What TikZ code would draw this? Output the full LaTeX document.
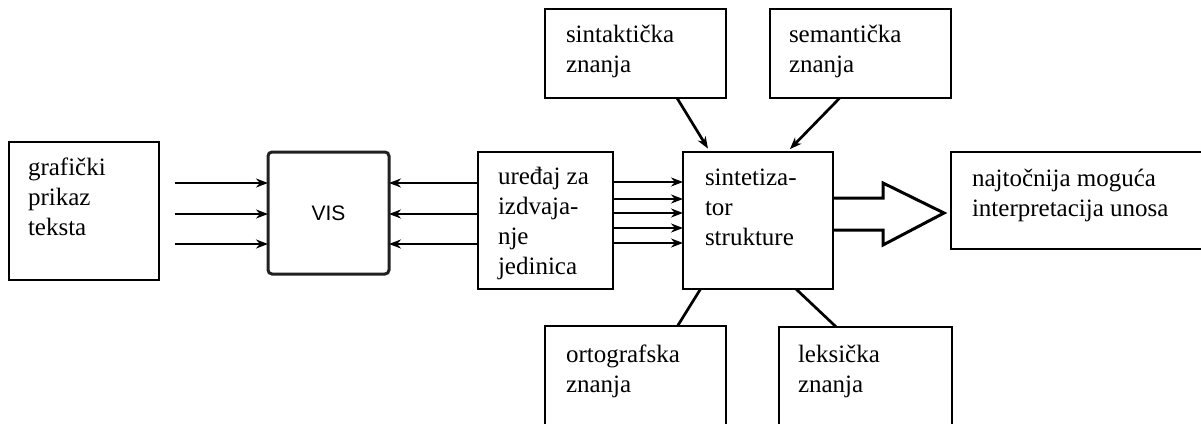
\documentclass[tikz,border=0pt]{standalone}
\usepackage{fontspec}
\setmainfont{Liberation Serif}
\newfontfamily\visfont{Liberation Sans}
\usetikzlibrary{arrows.meta}
\newlength{\du}
\setlength{\du}{1pt}
\definecolor{dialinecolor}{rgb}{0.000000, 0.000000, 0.000000}
\definecolor{diafillcolor}{rgb}{1.000000, 1.000000, 1.000000}
\definecolor{vislinecolor}{rgb}{0.130000, 0.130000, 0.130000}
\tikzset{
  diabox/.style={rectangle, draw=dialinecolor, fill=diafillcolor, anchor=north west,
    inner sep=0pt, outer sep=0pt, line width=1.7\du},
  visbox/.style={diabox, draw=vislinecolor, rounded corners=4\du, line width=3.0\du,
    font=\visfont\fontsize{21}{24}\selectfont},
  % base of a multi-line text is the baseline of its last line
  diatext/.style={anchor=base west, inner sep=0pt, outer sep=0pt, align=left,
    color=dialinecolor, font=\fontsize{25}{30}\selectfont},
  dialine/.style={draw=dialinecolor, line width=2.7\du},
  diaarrow/.style={dialine, -{Stealth[length=12pt,width=9pt]}},
  bigarrow/.style={draw=dialinecolor, line width=3.0\du, miter limit=20},
}
\begin{document}
\begin{tikzpicture}
\pgftransformxscale{1.000000}
\pgftransformyscale{-1.000000}
\useasboundingbox (0.000000\du,0.000000\du) rectangle (1201.000000\du,423.000000\du);
\clip (0.000000\du,0.000000\du) rectangle (1201.000000\du,423.000000\du);
% boxes
\node[diabox, minimum width=150\du, minimum height=138\du] (graf) at (9.000000\du,142.000000\du) {};
\node[visbox, minimum width=121\du, minimum height=122\du] (vis) at (268.000000\du,152.000000\du) {VIS};
\node[diabox, minimum width=135\du, minimum height=137\du] (ured) at (478.000000\du,152.000000\du) {};
\node[diabox, minimum width=150\du, minimum height=137\du] (sint) at (683.000000\du,152.000000\du) {};
\node[diabox, minimum width=181\du, minimum height=89\du] (sintakt) at (545.000000\du,9.000000\du) {};
\node[diabox, minimum width=181\du, minimum height=89\du] (seman) at (770.000000\du,9.000000\du) {};
\node[diabox, minimum width=181\du, minimum height=120\du] (orto) at (545.000000\du,326.000000\du) {};
\node[diabox, minimum width=173\du, minimum height=120\du] (leks) at (779.000000\du,327.000000\du) {};
\node[diabox, minimum width=270\du, minimum height=97\du] (rez) at (951.000000\du,152.000000\du) {};
% setfont left to latex
\node[diatext] (graftext) at (28.000000\du,235.000000\du) {grafički\\prikaz\\teksta};
\node[diatext] (uredtext) at (498.000000\du,274.000000\du) {uređaj za\\izdvaja-\\nje\\jedinica};
\node[diatext] (sinttext) at (705.000000\du,245.000000\du) {sintetiza-\\tor\\strukture};
\node[diatext] (sintakttext) at (566.000000\du,72.000000\du) {sintaktička\\znanja};
\node[diatext] (semantext) at (789.000000\du,72.000000\du) {semantička\\znanja};
\node[diatext] (ortotext) at (566.000000\du,392.000000\du) {ortografska\\znanja};
\node[diatext] (lekstext) at (798.000000\du,392.000000\du) {leksička\\znanja};
\node[diatext] (reztext) at (972.000000\du,216.000000\du) {najtočnija moguća\\interpretacija unosa};
% rows of the arrows
\coordinate (in) at (175.000000\du,0.000000\du);
\coordinate (r1) at (0.000000\du,183.000000\du);
\coordinate (r2) at (0.000000\du,214.000000\du);
\coordinate (r3) at (0.000000\du,244.000000\du);
\coordinate (s1) at (0.000000\du,182.000000\du);
\coordinate (s2) at (0.000000\du,199.000000\du);
\coordinate (s3) at (0.000000\du,213.000000\du);
\coordinate (s4) at (0.000000\du,228.000000\du);
\coordinate (s5) at (0.000000\du,243.000000\du);
\draw[diaarrow] (in |- r1)--(vis.west |- r1);
\draw[diaarrow] (in |- r2)--(vis.west |- r2);
\draw[diaarrow] (in |- r3)--(vis.west |- r3);
\draw[diaarrow] (ured.west |- r1)--(vis.east |- r1);
\draw[diaarrow] (ured.west |- r2)--(vis.east |- r2);
\draw[diaarrow] (ured.west |- r3)--(vis.east |- r3);
\draw[diaarrow] (ured.east |- s1)--(sint.west |- s1);
\draw[diaarrow] (ured.east |- s2)--(sint.west |- s2);
\draw[diaarrow] (ured.east |- s3)--(sint.west |- s3);
\draw[diaarrow] (ured.east |- s4)--(sint.west |- s4);
\draw[diaarrow] (ured.east |- s5)--(sint.west |- s5);
% knowledge sources
\draw[diaarrow, shorten >=4\du] (sintakt.-47)--(sint.125);
\draw[diaarrow, shorten >=4\du] (seman.-115)--(sint.67);
\draw[dialine] (sint.-130)--(orto.55);
\draw[dialine] (sint.-61)--(leks.116);
% output
\coordinate (bigtop) at (883.000000\du,198.000000\du);
\coordinate (bigbot) at (883.000000\du,230.000000\du);
\draw[bigarrow] (sint.east |- bigtop)--(bigtop)--(883.000000\du,183.000000\du)--(944.000000\du,213.000000\du)--(883.000000\du,245.000000\du)--(bigbot)--(sint.east |- bigbot);
\end{tikzpicture}
\end{document}
